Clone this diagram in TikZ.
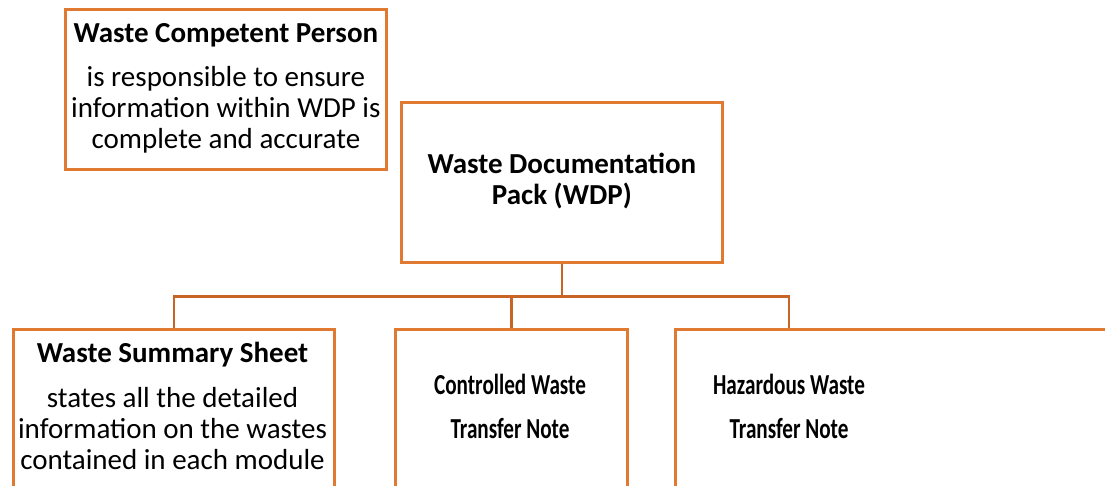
\documentclass[tikz,border=0pt]{standalone}
\usepackage{fontspec}
\setmainfont{Carlito}
\usepackage{graphicx}
\definecolor{boxc}{RGB}{224,122,50}
\definecolor{connc}{RGB}{200,100,38}
\newcommand\tlines[1]{\begin{tabular}[t]{@{}c@{}}#1\end{tabular}}
\newcommand\cond[1]{\scalebox{0.73}[1]{#1}}
\begin{document}
\begin{tikzpicture}[x=1pt,y=-1pt,
  box/.style={draw=boxc,line width=2.8pt,rectangle,inner sep=0pt,anchor=north west},
  conn/.style={draw=connc,line width=2.8pt},
  txt/.style={font=\fontsize{29}{31}\selectfont,inner sep=0pt,text=black}]
\useasboundingbox (0,0) rectangle (1105,486);
\clip (0,0) rectangle (1105,486);
\node[box, txt, minimum width=321pt, minimum height=160pt] (wcp) at (64,8)
  {\tlines{\bfseries Waste Competent Person\\[13pt] is responsible to ensure\\ information within WDP is\\ complete and accurate}};
\node[box, txt, font=\fontsize{29}{31}\selectfont\bfseries, minimum width=321pt, minimum height=160pt] (wdp) at (400,101)
  {\tlines{Waste Documentation\\ Pack (WDP)}};
\node[box, minimum width=321pt, minimum height=220pt] (wss) at (12,328) {};
\node[box, minimum width=232pt, minimum height=220pt] (cwtn) at (394,328) {};
\node[box, minimum width=520pt, minimum height=220pt] (hwtn) at (674,328) {};
\node[txt, anchor=base] (wsst) at (172.5,362)
  {\tlines{\bfseries Waste Summary Sheet\\[14pt] states all the detailed\\ information on the wastes\\ contained in each module}};
\node[txt, font=\fontsize{29}{31}\selectfont\bfseries, anchor=base] (cwtnt) at (510,394)
  {\tlines{\cond{Controlled Waste}\\[13pt] \cond{Transfer Note}}};
\node[txt, font=\fontsize{29}{31}\selectfont\bfseries, anchor=base] (hwtnt) at (789,394)
  {\tlines{\cond{Hazardous Waste}\\[13pt] \cond{Transfer Note}}};
\coordinate (bus) at ([yshift=-33pt]wdp.south);
\draw[conn] (wdp.south) -- (bus);
\draw[conn] (wss.north) |- (bus) -| (hwtnt |- hwtn.north);
\draw[conn] (cwtn.north) -- (cwtn.north |- bus);
\end{tikzpicture}
\end{document}
